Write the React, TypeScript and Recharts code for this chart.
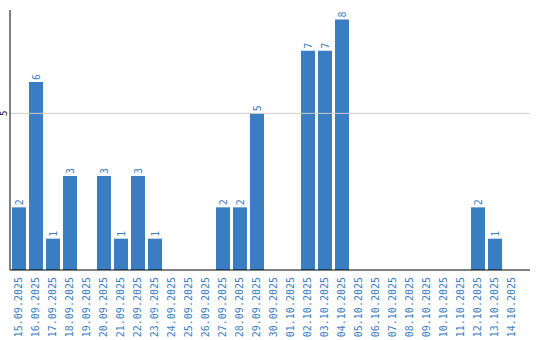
import React from 'react';
import { BarChart, Bar, XAxis, YAxis, ReferenceLine, LabelList } from 'recharts';

const dates = [
    '15.09.2025', '16.09.2025', '17.09.2025', '18.09.2025', '19.09.2025',
    '20.09.2025', '21.09.2025', '22.09.2025', '23.09.2025', '24.09.2025',
    '25.09.2025', '26.09.2025', '27.09.2025', '28.09.2025', '29.09.2025',
    '30.09.2025', '01.10.2025', '02.10.2025', '03.10.2025', '04.10.2025',
    '05.10.2025', '06.10.2025', '07.10.2025', '08.10.2025', '09.10.2025',
    '10.10.2025', '11.10.2025', '12.10.2025', '13.10.2025', '14.10.2025',
];
const counts = [2, 6, 1, 3, 0, 3, 1, 3, 1, 0, 0, 0, 2, 2, 5, 0, 0, 7, 7, 8, 0, 0, 0, 0, 0, 0, 0, 2, 1, 0];
const yTicks = [5];

const BLUE = '#3b7dc2';
const FONT = '"DejaVu Sans Mono", monospace';

const data = dates.map((d, i) => ({ date: d, count: counts[i] }));

const XTick = (props: any) => {
    const { x, payload } = props;
    return (
        <text
            transform={`translate(${x},277) rotate(-90)`}
            textAnchor="end"
            dy="0.35em"
            fontSize={10}
            fontFamily={FONT}
            fill={BLUE}
        >
            {payload.value}
        </text>
    );
};

const YTick = (props: any) => {
    const { y, payload } = props;
    return (
        <text
            transform={`translate(4,${y}) rotate(-90)`}
            textAnchor="middle"
            dy="0.35em"
            fontSize={9}
            fontFamily={FONT}
            fill="#000"
        >
            {payload.value}
        </text>
    );
};

const BarLabel = (props: any) => {
    const { x, y, width, value } = props;
    if (!value) return null;
    const cx = x + width / 2;
    return (
        <text
            transform={`translate(${cx},${y - 2}) rotate(-90)`}
            textAnchor="start"
            dy="0.35em"
            fontSize={10}
            fontFamily={FONT}
            fill={BLUE}
        >
            {value}
        </text>
    );
};

export default function App() {
    return (
        <div style={{ position: 'absolute', left: 0, top: 0, width: 540, height: 340, background: '#fff' }}>
            <BarChart
                width={540}
                height={340}
                data={data}
                margin={{ top: 10, right: 10, left: 0, bottom: 0 }}
                barSize={14}
            >
                <ReferenceLine y={5} stroke="#cccccc" />
                <XAxis
                    dataKey="date"
                    interval={0}
                    height={70}
                    tick={<XTick />}
                    tickLine={false}
                    axisLine={{ stroke: '#000' }}
                    padding={{ left: 0, right: 10 }}
                />
                <YAxis
                    width={10}
                    domain={[0, 8.3]}
                    ticks={yTicks}
                    tick={<YTick />}
                    tickLine={false}
                    axisLine={{ stroke: '#000' }}
                />
                <Bar dataKey="count" fill={BLUE} isAnimationActive={false}>
                    <LabelList dataKey="count" content={<BarLabel />} />
                </Bar>
            </BarChart>
        </div>
    );
}
